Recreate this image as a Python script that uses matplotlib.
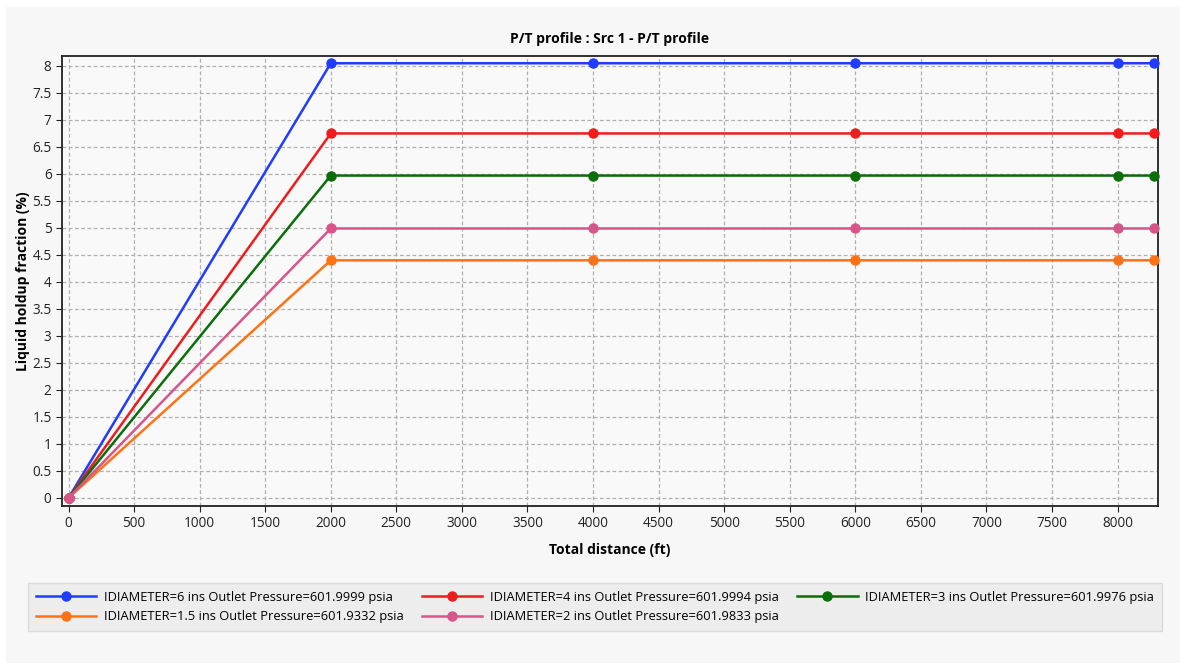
import matplotlib.pyplot as plt
from matplotlib.ticker import FormatStrFormatter, MultipleLocator
from matplotlib.patches import Rectangle

# Data
distance = [0, 2000, 4000, 6000, 8000, 8275]
holdup_6 = [0, 8.05, 8.05, 8.05, 8.05, 8.05]
holdup_4 = [0, 6.75, 6.75, 6.75, 6.75, 6.75]
holdup_3 = [0, 5.97, 5.97, 5.97, 5.97, 5.97]
holdup_1_5 = [0, 4.40, 4.40, 4.40, 4.40, 4.40]
holdup_2 = [0, 4.99, 4.99, 4.99, 4.99, 4.99]

labels = [
    "IDIAMETER=6 ins Outlet Pressure=601.9999 psia",
    "IDIAMETER=4 ins Outlet Pressure=601.9994 psia",
    "IDIAMETER=3 ins Outlet Pressure=601.9976 psia",
    "IDIAMETER=1.5 ins Outlet Pressure=601.9332 psia",
    "IDIAMETER=2 ins Outlet Pressure=601.9833 psia",
]
series = [holdup_6, holdup_4, holdup_3, holdup_1_5, holdup_2]
colors = ["#1f3cff", "#ee1c1c", "#0b6e0b", "#ff7214", "#d9548a"]

plt.rcParams['font.family'] = ['Open Sans', 'DejaVu Sans']

fig = plt.figure(figsize=(11.86, 6.67), dpi=100)
fig.patch.set_facecolor("white")
# light panel behind everything
bg = Rectangle((6 / 1186, 4 / 667), 1174 / 1186, 656 / 667,
               transform=fig.transFigure, facecolor="#f7f7f7",
               edgecolor="none", zorder=-10)
fig.patches.append(bg)

ax = fig.add_axes([62 / 1186, 1 - 506 / 667, (1157.5 - 62) / 1186, (506 - 55.7) / 667])
ax.set_facecolor("#f9f9f9")

lines = []
for y, c, lab in zip(series, colors, labels):
    ln, = ax.plot(distance, y, color=c, lw=1.8, marker="o", markersize=6.5,
                  label=lab, clip_on=False, zorder=3)
    lines.append(ln)

ax.set_xlim(-50, 8305)
ax.set_ylim(-0.15, 8.19)
ax.xaxis.set_major_locator(MultipleLocator(500))
ax.yaxis.set_major_locator(MultipleLocator(0.5))
ax.yaxis.set_major_formatter(FormatStrFormatter("%g"))
ax.grid(True, linestyle=(0, (3, 2)), color="#b0b0b0", lw=0.9)
ax.tick_params(labelsize=9.8, colors="#222222", length=4, width=0.8)
for s in ax.spines.values():
    s.set_linewidth(1.3)
    s.set_color("#222222")

ax.set_title("P/T profile : Src 1 - P/T profile", fontsize=10, fontweight="bold", pad=9)
ax.set_xlabel("Total distance (ft)", fontsize=10, fontweight="bold")
ax.set_ylabel("Liquid holdup fraction (%)", fontsize=10, fontweight="bold")
ax.xaxis.set_label_coords(0.5, -0.082)
ax.yaxis.set_label_coords(-0.029, 0.5)

# legend filled column-wise: reorder so rows read 6,4,3 / 1.5,2
order = [0, 3, 1, 4, 2]
leg = fig.legend([lines[i] for i in order], [labels[i] for i in order],
                 loc="upper left", bbox_to_anchor=(28 / 1186, 1 - 631 / 667, 1134 / 1186, 48 / 667),
                 mode="expand", ncol=3, fontsize=9.3, handlelength=4.7, handletextpad=0.6,
                 columnspacing=0.5, labelspacing=0.5, borderpad=0.6,
                 fancybox=False, frameon=True, borderaxespad=0)
leg.get_frame().set_facecolor("#ebebeb")
leg.get_frame().set_edgecolor("#d6d6d6")
leg.get_frame().set_linewidth(1)

fig.savefig("out.png", dpi=100, facecolor=fig.get_facecolor())
